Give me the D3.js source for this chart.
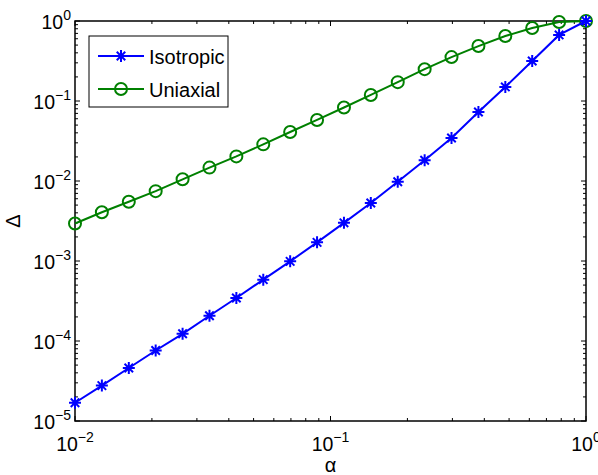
<!DOCTYPE html>
<html>
<head>
<meta charset="utf-8">
<script src="https://cdn.jsdelivr.net/npm/d3@7"></script>
<style>
  html, body { margin: 0; padding: 0; background: #fff; }
  svg { display: block; font-family: "Liberation Sans", Arial, Helvetica, sans-serif; }
</style>
</head>
<body>
<svg id="chart" width="598" height="475"></svg>
<script>
// Sample points: 20 log-spaced values of alpha between 1e-2 and 1
const alphaValues = [0.01, 0.01274, 0.01624, 0.02069, 0.02637, 0.03360, 0.04281, 0.05456,
  0.06952, 0.08859, 0.1129, 0.1438, 0.1833, 0.2336, 0.2976, 0.3793, 0.4833, 0.6158, 0.7848, 1.0];

// Delta for the isotropic case
const isotropic = [1.69e-5, 2.77e-5, 4.6e-5, 7.6e-5, 1.23e-4, 2.07e-4, 3.45e-4, 5.85e-4,
  9.9e-4, 1.71e-3, 3.0e-3, 5.3e-3, 9.8e-3, 1.82e-2, 3.45e-2, 7.3e-2, 0.150, 0.316, 0.670, 1.0];

// Delta for the uniaxial case
const uniaxial = [2.94e-3, 4.07e-3, 5.5e-3, 7.47e-3, 1.05e-2, 1.47e-2, 2.03e-2, 2.87e-2,
  4.1e-2, 5.8e-2, 8.3e-2, 0.119, 0.172, 0.250, 0.354, 0.486, 0.649, 0.817, 0.970, 1.0];

const seriesNames = ["Isotropic", "Uniaxial"];
const seriesColors = ["#0000ff", "#008000"];

// Decade exponents used as tick labels
const xTickExps = [-2, -1, 0];
const yTickExps = [-5, -4, -3, -2, -1, 0];

const svg = d3.select("#chart");
const plotLeft = 75, plotRight = 586, plotTop = 21, plotBottom = 421;

const x = d3.scaleLog().domain([1e-2, 1]).range([plotLeft, plotRight]);
const y = d3.scaleLog().domain([1e-5, 1]).range([plotBottom, plotTop]);

const axisColor = "#000";
const majorLen = 5, minorLen = 3;

// Minor ticks: 2..9 times each decade
function minorTicks(exps) {
  const out = [];
  for (let i = 0; i < exps.length - 1; i++) {
    for (let m = 2; m <= 9; m++) out.push(m * Math.pow(10, exps[i]));
  }
  return out;
}
const xMajor = xTickExps.map(e => Math.pow(10, e));
const yMajor = yTickExps.map(e => Math.pow(10, e));
const xMinor = minorTicks(xTickExps);
const yMinor = minorTicks(yTickExps);

const ticks = svg.append("g").attr("stroke", axisColor).attr("stroke-width", 1);
// bottom and top ticks (pointing inward)
[[xMajor, majorLen], [xMinor, minorLen]].forEach(([vals, len]) => {
  vals.forEach(v => {
    const px = x(v);
    ticks.append("line").attr("x1", px).attr("x2", px).attr("y1", plotBottom).attr("y2", plotBottom - len);
    ticks.append("line").attr("x1", px).attr("x2", px).attr("y1", plotTop).attr("y2", plotTop + len);
  });
});
// left and right ticks
[[yMajor, majorLen], [yMinor, minorLen]].forEach(([vals, len]) => {
  vals.forEach(v => {
    const py = y(v);
    ticks.append("line").attr("x1", plotLeft).attr("x2", plotLeft + len).attr("y1", py).attr("y2", py);
    ticks.append("line").attr("x1", plotRight).attr("x2", plotRight - len).attr("y1", py).attr("y2", py);
  });
});

// Axes box
svg.append("rect")
  .attr("x", plotLeft).attr("y", plotTop)
  .attr("width", plotRight - plotLeft).attr("height", plotBottom - plotTop)
  .attr("fill", "none").attr("stroke", axisColor).attr("stroke-width", 1.5);

// Power-of-ten tick label: "10" with a raised exponent
function powerLabel(sel, exp) {
  sel.append("tspan").text("10");
  sel.append("tspan").attr("dy", -9).attr("font-size", 14)
    .text(exp < 0 ? "\u2212" + (-exp) : String(exp));
}

const fontSize = 19.5;
xTickExps.forEach(e => {
  const t = svg.append("text")
    .attr("x", x(Math.pow(10, e))).attr("y", plotBottom + 30)
    .attr("text-anchor", "middle").attr("font-size", fontSize).attr("fill", "#000");
  powerLabel(t, e);
});
yTickExps.forEach(e => {
  const t = svg.append("text")
    .attr("x", plotLeft - 4).attr("y", y(Math.pow(10, e)) + 7.5)
    .attr("text-anchor", "end").attr("font-size", fontSize).attr("fill", "#000");
  powerLabel(t, e);
});

// Axis titles
svg.append("text")
  .attr("x", (plotLeft + plotRight) / 2).attr("y", 472)
  .attr("text-anchor", "middle").attr("font-size", 20).attr("fill", "#000")
  .text("\u03b1");
svg.append("text")
  .attr("transform", `translate(20,${(plotTop + plotBottom) / 2}) rotate(-90)`)
  .attr("text-anchor", "middle").attr("font-size", 20).attr("fill", "#000")
  .text("\u0394");

// Series
const seriesData = [isotropic, uniaxial];
const line = d3.line().x(d => x(d[0])).y(d => y(d[1]));

function drawStar(g, cx, cy, r, color) {
  const d = r * Math.SQRT1_2;
  const p = `M${cx - r},${cy}L${cx + r},${cy}M${cx},${cy - r}L${cx},${cy + r}` +
            `M${cx - d},${cy - d}L${cx + d},${cy + d}M${cx - d},${cy + d}L${cx + d},${cy - d}`;
  g.append("path").attr("d", p).attr("stroke", color).attr("stroke-width", 2).attr("fill", "none");
}
function drawCircle(g, cx, cy, r, color) {
  g.append("circle").attr("cx", cx).attr("cy", cy).attr("r", r)
    .attr("fill", "none").attr("stroke", color).attr("stroke-width", 2);
}

// draw uniaxial first so the isotropic markers sit on top at alpha = 1
[1, 0].forEach(i => {
  const pts = alphaValues.map((a, k) => [a, seriesData[i][k]]);
  const g = svg.append("g");
  g.append("path").attr("d", line(pts))
    .attr("fill", "none").attr("stroke", seriesColors[i]).attr("stroke-width", 2);
  pts.forEach(p => {
    if (i === 0) drawStar(g, x(p[0]), y(p[1]), 6, seriesColors[i]);
    else drawCircle(g, x(p[0]), y(p[1]), 6, seriesColors[i]);
  });
});

// Legend
const lg = svg.append("g");
lg.append("rect").attr("x", 89).attr("y", 36).attr("width", 139).attr("height", 71)
  .attr("fill", "#fff").attr("stroke", "#000").attr("stroke-width", 1);
seriesNames.forEach((name, i) => {
  const ly = 56 + i * 33;
  lg.append("line").attr("x1", 98).attr("x2", 144).attr("y1", ly).attr("y2", ly)
    .attr("stroke", seriesColors[i]).attr("stroke-width", 2);
  if (i === 0) drawStar(lg, 121, ly, 6, seriesColors[i]);
  else drawCircle(lg, 121, ly, 6, seriesColors[i]);
  lg.append("text").attr("x", 149).attr("y", ly + 7.5)
    .attr("font-size", 20).attr("fill", "#000").text(name);
});
</script>
</body>
</html>
